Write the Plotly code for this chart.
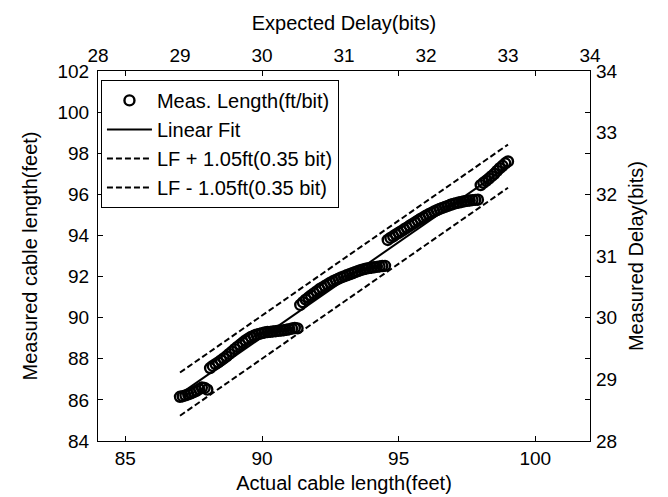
import plotly.graph_objects as go

# Measured data (actual cable length vs measured cable length, feet)
actual_ft = [
    87.0, 87.1, 87.2, 87.3, 87.4, 87.5, 87.6, 87.7, 87.8, 87.9, 88.0,
    88.1, 88.2, 88.3, 88.4, 88.5, 88.6, 88.7, 88.8, 88.9, 89.0, 89.1, 89.2, 89.3, 89.4,
    89.5, 89.6, 89.7, 89.8, 89.9, 90.0, 90.1, 90.2, 90.3, 90.4, 90.5, 90.6, 90.7, 90.8,
    90.9, 91.0, 91.1, 91.2, 91.3,
    91.4, 91.5, 91.6, 91.7, 91.8, 91.9, 92.0, 92.1, 92.2, 92.3, 92.4, 92.5, 92.6, 92.7,
    92.8, 92.9, 93.0, 93.1, 93.2, 93.3, 93.4, 93.5, 93.6, 93.7, 93.8, 93.9, 94.0, 94.1,
    94.2, 94.3, 94.4, 94.5,
    94.6, 94.7, 94.8, 94.9, 95.0, 95.1, 95.2, 95.3, 95.4, 95.5, 95.6, 95.7, 95.8, 95.9,
    96.0, 96.1, 96.2, 96.3, 96.4, 96.5, 96.6, 96.7, 96.8, 96.9, 97.0, 97.1, 97.2, 97.3,
    97.4, 97.5, 97.6, 97.7, 97.8, 97.9,
    98.0, 98.1, 98.2, 98.3, 98.4, 98.5, 98.6, 98.7, 98.8, 98.9, 99.0,
]
measured_ft = [
    86.15, 86.18, 86.22, 86.27, 86.32, 86.38, 86.44, 86.52, 86.60, 86.58, 86.50,
    87.55, 87.65, 87.74, 87.82, 87.92, 88.02, 88.12, 88.24, 88.35, 88.47, 88.58, 88.68, 88.79, 88.89,
    88.98, 89.06, 89.12, 89.17, 89.21, 89.25, 89.28, 89.30, 89.31, 89.33, 89.34, 89.36, 89.37, 89.39,
    89.41, 89.44, 89.47, 89.50, 89.48,
    90.62, 90.75, 90.88, 90.98, 91.08, 91.18, 91.28, 91.38, 91.46, 91.54, 91.62, 91.70, 91.77, 91.84,
    91.90, 91.96, 92.01, 92.06, 92.11, 92.16, 92.21, 92.26, 92.31, 92.35, 92.38, 92.41, 92.43, 92.45,
    92.47, 92.49, 92.51, 92.52,
    93.78, 93.88, 93.96, 94.05, 94.13, 94.21, 94.30, 94.38, 94.47, 94.55, 94.63, 94.72, 94.80, 94.88,
    94.96, 95.03, 95.10, 95.17, 95.23, 95.29, 95.34, 95.39, 95.44, 95.49, 95.53, 95.57, 95.60, 95.63,
    95.66, 95.68, 95.70, 95.72, 95.73, 95.74,
    96.45, 96.56, 96.66, 96.77, 96.88, 97.00, 97.14, 97.27, 97.39, 97.51, 97.60,
]

# Linear fit end points (feet) and band offset
fit_x = [87.0, 99.0]
fit_y = [86.28, 97.37]
band_offset = 1.05

# Axis ticks
x_ticks = [85, 90, 95, 100]
y_ticks = [84, 86, 88, 90, 92, 94, 96, 98, 100, 102]
bit_ticks = [28, 29, 30, 31, 32, 33, 34]

FONT = "Liberation Sans, Arial, Helvetica, sans-serif"

fig = go.Figure()
fig.add_trace(go.Scatter(
    x=actual_ft, y=measured_ft, mode="markers", name="Meas. Length(ft/bit)",
    marker=dict(symbol="circle-open", size=10, color="black", line=dict(width=2.4, color="black")),
))
fig.add_trace(go.Scatter(
    x=fit_x, y=fit_y, mode="lines", name="Linear Fit",
    line=dict(color="black", width=2),
))
fig.add_trace(go.Scatter(
    x=fit_x, y=[v + band_offset for v in fit_y], mode="lines", name="LF + 1.05ft(0.35 bit)",
    line=dict(color="black", width=2, dash="6px,3px"),
))
fig.add_trace(go.Scatter(
    x=fit_x, y=[v - band_offset for v in fit_y], mode="lines", name="LF - 1.05ft(0.35 bit)",
    line=dict(color="black", width=2, dash="6px,3px"),
))
# trace on secondary axes so they are drawn
fig.add_trace(go.Scatter(x=[], y=[], xaxis="x2", yaxis="y2", showlegend=False, hoverinfo="skip"))

axis_common = dict(
    showgrid=False, zeroline=False, showline=True, linecolor="black", linewidth=1,
    ticks="inside", ticklen=5, tickcolor="black", mirror="ticks", automargin=False,
    tickfont=dict(family=FONT, size=19, color="black"),
)
axis2_common = dict(
    showgrid=False, zeroline=False, showline=False, ticks="", automargin=False,
    tickfont=dict(family=FONT, size=19, color="black"),
)

fig.update_layout(
    width=668, height=497,
    margin=dict(l=90, r=86, t=63, b=64),
    paper_bgcolor="white", plot_bgcolor="white",
    font=dict(family=FONT, color="black", size=19),
    xaxis=dict(range=[84, 102], tickvals=x_ticks, ticklabelstandoff=0, **axis_common,
               title=dict(text="Actual cable length(feet)", font=dict(size=20), standoff=8)),
    yaxis=dict(range=[84, 102], tickvals=y_ticks, ticklabelstandoff=4, **axis_common,
               title=dict(text="Measured cable length(feet)", font=dict(size=20), standoff=14)),
    xaxis2=dict(range=[28, 34], tickvals=bit_ticks, overlaying="x", side="top", anchor="y",
                ticklabelstandoff=4, **axis2_common,
                title=dict(text="Expected Delay(bits)", font=dict(size=20), standoff=9)),
    yaxis2=dict(range=[28, 34], tickvals=bit_ticks, overlaying="y", side="right", anchor="x",
                ticklabelstandoff=5, **axis2_common,
                title=dict(text="Measured Delay(bits)", font=dict(size=20), standoff=12)),
    legend=dict(x=0.006, y=0.976, xanchor="left", yanchor="top",
                bordercolor="black", borderwidth=1, bgcolor="white",
                font=dict(family=FONT, size=20, color="black"),
                tracegroupgap=0, itemwidth=45),
    showlegend=True,
)

fig.write_html("out.html")
